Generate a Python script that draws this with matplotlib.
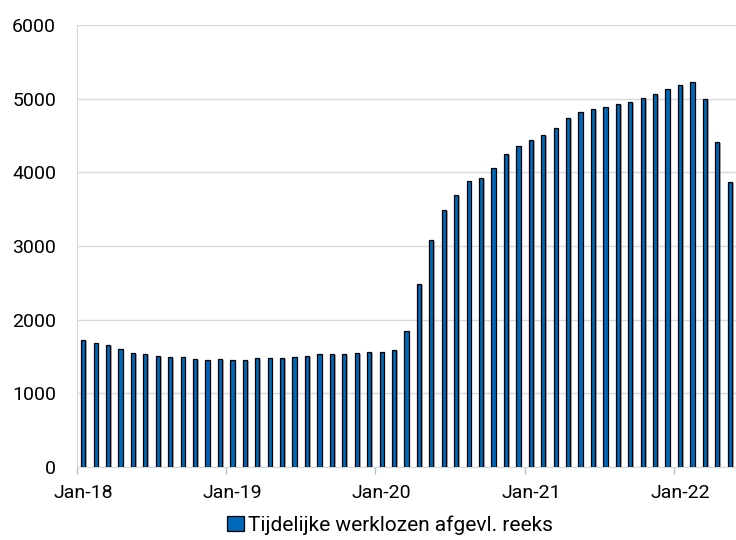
import matplotlib
matplotlib.use("Agg")
import matplotlib.pyplot as plt
import matplotlib.patheffects as pe
from matplotlib.patches import Patch

plt.rcParams['font.family'] = ['Roboto', 'DejaVu Sans']

# maandelijkse reeks jan-2018 t/m mei-2022
months = [f"{m}-{y}" for y in range(18, 23)
          for m in ["Jan", "Feb", "Mar", "Apr", "May", "Jun", "Jul", "Aug", "Sep", "Oct", "Nov", "Dec"]][:53]
values = [1720, 1683, 1656, 1606, 1552, 1534, 1511, 1493, 1489, 1462, 1457, 1466,
          1448, 1452, 1480, 1480, 1480, 1498, 1511, 1529, 1529, 1529, 1552, 1566,
          1566, 1584, 1846, 2480, 3086, 3493, 3697, 3878, 3927, 4054, 4253, 4353,
          4434, 4507, 4600, 4737, 4823, 4860, 4887, 4923, 4959, 5013, 5068, 5127,
          5190, 5222, 5000, 4416, 3865]
series_label = "Tijdelijke werklozen afgevl. reeks"

fig = plt.figure(figsize=(7.36, 5.4), dpi=100)
ax = fig.add_axes([0.1046, 0.1352, 0.8954, 0.8185])

x = list(range(len(values)))
bars = ax.bar(x, values, width=0.34, color="#0068b8", edgecolor="black", linewidth=0.9, zorder=3)
for b in bars:
    b.set_path_effects([pe.SimplePatchShadow(offset=(1.2, -0.8), shadow_rgbFace="gray", alpha=0.6), pe.Normal()])

ax.set_xlim(-0.5, len(values) - 0.5)
ax.set_ylim(0, 6000)
ax.set_yticks(range(0, 6001, 1000))
ax.grid(axis="y", color="#d9d9d9", linewidth=1, zorder=0)

jan = [i for i in x if months[i].startswith("Jan")]
ax.set_xticks(jan)
ax.set_xticklabels([months[i] for i in jan])
ax.set_xticks([i - 0.5 for i in jan], minor=True)
ax.tick_params(axis="x", which="major", length=0, pad=12, labelsize=14)
ax.tick_params(axis="x", which="minor", length=5, color="#bfbfbf", width=1)
ax.tick_params(axis="y", length=0, pad=15, labelsize=14)

for s in ["top", "right"]:
    ax.spines[s].set_visible(False)
ax.spines["left"].set_color("#d8d8cc")
ax.spines["bottom"].set_color("#d9d9d9")

handle = Patch(facecolor="#0068b8", edgecolor="black", linewidth=0.9)
fig.legend([handle], [series_label], loc="lower center", bbox_to_anchor=(0.53, -0.025),
           frameon=False, fontsize=15, handlelength=0.8, handleheight=0.8, handletextpad=0.2)

fig.savefig("out.png", dpi=100)
